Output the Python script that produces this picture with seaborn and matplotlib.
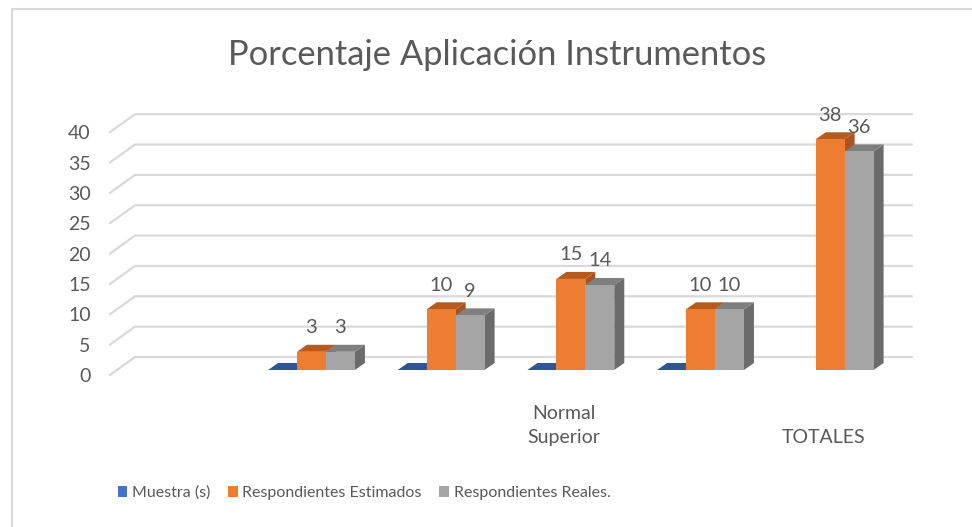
import numpy as np
import pandas as pd
import matplotlib
matplotlib.use("Agg")
import matplotlib.pyplot as plt
import matplotlib.transforms as mtransforms
from matplotlib.patches import Polygon, Patch
import seaborn as sns

# ---- data ----
categories = ["c0", "c1", "c2", "Normal Superior", "c4", "TOTALES"]
tick_labels = ["", "", "", "Normal\nSuperior", "", "TOTALES"]
series = ["Muestra (s)", "Respondientes Estimados", "Respondientes Reales."]
muestra = [np.nan, 0, 0, 0, 0, np.nan]
estimados = [np.nan, 3, 10, 15, 10, 38]
reales = [np.nan, 3, 9, 14, 10, 36]

front_colors = ["#4472C4", "#ED7D31", "#A5A5A5"]
top_colors = ["#2F5597", "#B65A1E", "#7F7F7F"]
side_colors = ["#2A4A85", "#A85420", "#6B6B6B"]
text_color = "#595959"

df = pd.DataFrame({
    "category": categories * 3,
    "series": np.repeat(series, len(categories)),
    "value": muestra + estimados + reales,
})

sns.set_theme(style="white")
plt.rcParams["font.family"] = ["Lato", "DejaVu Sans"]

W, H = 972, 527
fig = plt.figure(figsize=(W / 100, H / 100), dpi=100)

# axes in pixel terms (bar front plane)
left_px, right_px, base_px, top_px = 117, 895, 370, 115
ax = fig.add_axes([left_px / W, (H - base_px) / H,
                   (right_px - left_px) / W, (base_px - top_px) / H])

sns.barplot(data=df, x="category", y="value", hue="series", order=categories,
            hue_order=series, palette=front_colors, width=0.67, saturation=1,
            edgecolor="none", errorbar=None, ax=ax)
ax.set_xlim(-0.5, 5.5)
ax.set_ylim(0, 42)
ax.get_legend().remove()

pxx = (right_px - left_px) / 6.0
pxy = (base_px - top_px) / 42.0

# ---- 3D-like back gridlines ----
for v in range(0, 41, 5):
    xs = [-0.5 - 7 / pxx, -0.5 + 18 / pxx, 5.5 + 17 / pxx]
    ys = [v - 5 / pxy, v + 13 / pxy, v + 13 / pxy]
    ax.plot(xs, ys, color="#D9D9D9", lw=1.6, zorder=0, clip_on=False)

# ---- depth faces for bars ----
ddx, ddy = 10 / pxx, 7 / pxy
bars = [p for p in ax.patches if np.isfinite(p.get_height())]
bars.sort(key=lambda p: p.get_x())
width_slot = 0.67 / 3
for i, p in enumerate(bars):
    x, w, h = p.get_x(), p.get_width(), p.get_height()
    k = int(round(x + w / 2))
    j = int(round((x + w / 2 - (k - 0.335)) / width_slot - 0.5))
    z = 2 + 3 * i
    side = Polygon([(x + w, 0), (x + w + ddx, ddy), (x + w + ddx, h + ddy), (x + w, h)],
                   closed=True, fc=side_colors[j], ec="none", zorder=z, clip_on=False)
    top = Polygon([(x, h), (x + w, h), (x + w + ddx, h + ddy), (x + ddx, h + ddy)],
                  closed=True, fc=top_colors[j], ec="none", zorder=z + 1, clip_on=False)
    ax.add_patch(side)
    ax.add_patch(top)
    p.set_zorder(z + 2)
    p.set_clip_on(False)
    if h > 0:
        ax.text(x + w / 2, h + 24 / pxy, f"{h:.0f}", ha="center", va="center",
                fontsize=14.5, color=text_color, zorder=100)

# ---- axes text ----
for s in ax.spines.values():
    s.set_visible(False)
ax.set_xlabel("")
ax.set_ylabel("")
ax.set_yticks(range(0, 41, 5))
ax.set_yticklabels([str(v) for v in range(0, 41, 5)])
ax.tick_params(axis="y", length=0, pad=19, labelsize=14, labelcolor=text_color)
shift_y = mtransforms.ScaledTranslation(0, -5 / 100, fig.dpi_scale_trans)
for lab in ax.get_yticklabels():
    lab.set_transform(lab.get_transform() + shift_y)

ax.set_xticks(range(len(categories)))
ax.set_xticklabels(tick_labels)
ax.tick_params(axis="x", length=0, pad=55, labelsize=14, labelcolor=text_color)
shift_x = mtransforms.ScaledTranslation(-7 / 100, 0, fig.dpi_scale_trans)
for lab in ax.get_xticklabels():
    lab.set_verticalalignment("bottom")
    lab.set_linespacing(1.5)
    lab.set_transform(lab.get_transform() + shift_x)

fig.text(497 / W, 1 - 55 / H, "Porcentaje Aplicación Instrumentos",
         ha="center", va="center", fontsize=24.8, color=text_color)

handles = [Patch(facecolor=c, edgecolor="none") for c in front_colors]
fig.legend(handles, series, loc="center", bbox_to_anchor=(364 / W, 1 - 493 / H),
           ncol=3, frameon=False, fontsize=11.5, handlelength=0.6, handleheight=0.6,
           handletextpad=0.3, columnspacing=1.1, labelcolor=text_color)

# chart border
fig.add_artist(plt.Line2D([12 / W, 12 / W], [0, 1 - 9 / H], color="#D9D9D9", lw=1.5))
fig.add_artist(plt.Line2D([12 / W, 1], [1 - 9 / H, 1 - 9 / H], color="#D9D9D9", lw=1.5))

fig.savefig("out.png", dpi=100, facecolor="white")
